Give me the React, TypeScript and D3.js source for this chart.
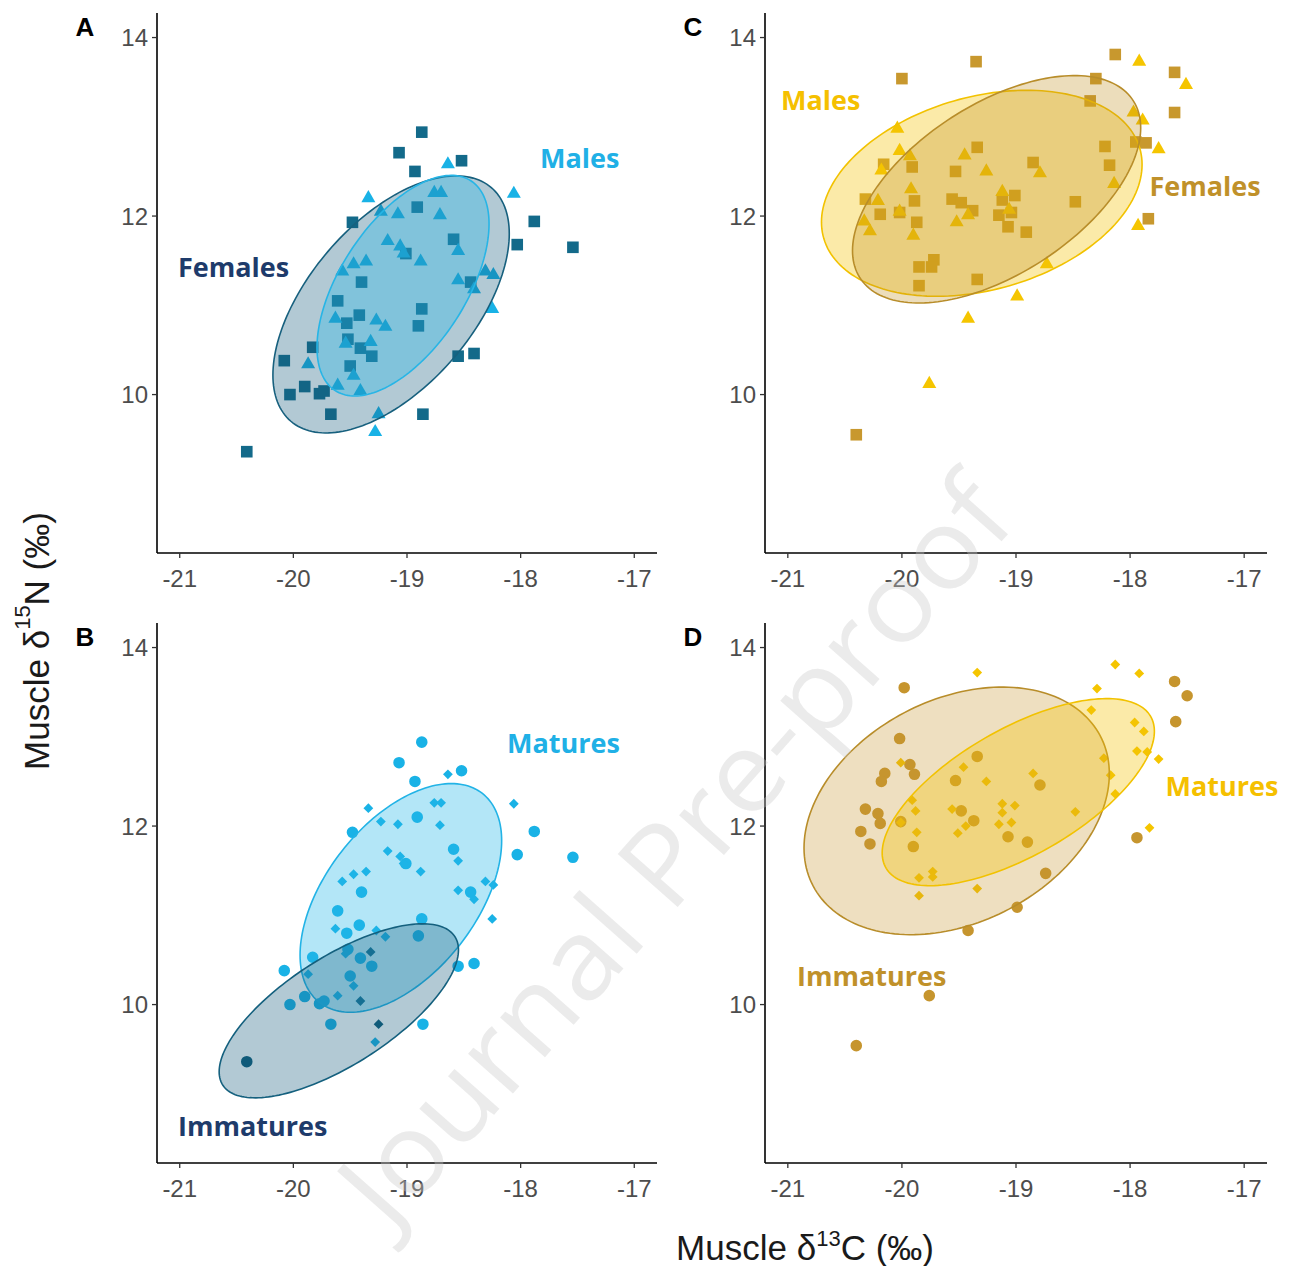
import React from "react";
import * as d3 from "d3";

type Pt = [number, number];
type Ell = [number, number, number, number, number]; // cx, cy, sx, sy, r

const xTicks = [-21, -20, -19, -18, -17];
const yTicks = [10, 12, 14];

// Panel A: sex, blue
const aFemales: Pt[] = [
  [-18.87, 12.94], [-19.07, 12.71], [-18.52, 12.62], [-18.93, 12.5], [-18.91, 12.1],
  [-19.48, 11.93], [-17.88, 11.94], [-18.03, 11.68], [-17.54, 11.65], [-18.59, 11.74],
  [-19.01, 11.58], [-19.4, 11.26], [-18.44, 11.26], [-19.61, 11.05], [-18.87, 10.96],
  [-19.42, 10.89], [-19.53, 10.8], [-18.9, 10.77], [-19.52, 10.62], [-19.41, 10.52],
  [-19.31, 10.43], [-19.83, 10.53], [-20.08, 10.38], [-18.55, 10.43], [-18.41, 10.46],
  [-19.5, 10.32], [-19.9, 10.09], [-20.03, 10.0], [-19.77, 10.01], [-19.73, 10.04],
  [-19.67, 9.78], [-18.86, 9.78], [-20.41, 9.36],
];
const aMales: Pt[] = [
  [-18.64, 12.58], [-19.34, 12.2], [-18.76, 12.26], [-18.7, 12.26], [-18.06, 12.25],
  [-19.23, 12.05], [-19.08, 12.02], [-18.71, 12.01], [-19.17, 11.72], [-19.06, 11.66],
  [-19.03, 11.58], [-18.88, 11.49], [-18.55, 11.61], [-19.36, 11.49], [-19.47, 11.46],
  [-19.57, 11.38], [-18.55, 11.28], [-18.31, 11.38], [-18.24, 11.34], [-18.41, 11.18],
  [-18.25, 10.96], [-19.63, 10.85], [-19.27, 10.83], [-19.19, 10.76], [-19.32, 10.59],
  [-19.54, 10.57], [-19.87, 10.34], [-19.47, 10.21], [-19.61, 10.1], [-19.41, 10.04],
  [-19.25, 9.78], [-19.28, 9.58],
];

// Panel B: maturity, blue
const bImmCircles: Pt[] = [[-20.41, 9.36]];
const bImmDiamonds: Pt[] = [[-19.32, 10.59], [-19.41, 10.04], [-19.25, 9.78]];

// Panel C: sex, gold
const cFemales: Pt[] = [
  [-19.35, 13.73], [-20.0, 13.54], [-18.13, 13.81], [-17.61, 13.61], [-18.3, 13.54],
  [-18.35, 13.29], [-17.61, 13.16], [-17.95, 12.83], [-17.86, 12.82], [-18.22, 12.78],
  [-18.18, 12.57], [-18.85, 12.6], [-19.34, 12.77], [-20.16, 12.58], [-19.91, 12.55],
  [-19.53, 12.5], [-20.32, 12.19], [-19.89, 12.17], [-19.56, 12.19], [-19.48, 12.15],
  [-19.38, 12.06], [-19.01, 12.23], [-19.12, 12.18], [-18.48, 12.16], [-20.19, 12.02],
  [-20.02, 12.04], [-19.87, 11.93], [-19.15, 12.01], [-19.04, 12.04], [-19.07, 11.88],
  [-18.91, 11.82], [-17.84, 11.97], [-19.85, 11.43], [-19.72, 11.51], [-19.74, 11.43],
  [-19.85, 11.22], [-19.34, 11.29], [-20.4, 9.55],
];
const cMales: Pt[] = [
  [-17.92, 13.73], [-17.51, 13.47], [-17.97, 13.16], [-17.89, 13.07], [-17.75, 12.75],
  [-18.14, 12.36], [-20.04, 12.98], [-20.02, 12.73], [-19.93, 12.67], [-20.18, 12.51],
  [-19.45, 12.68], [-19.26, 12.5], [-18.79, 12.48], [-19.92, 12.3], [-20.21, 12.17],
  [-19.12, 12.27], [-20.33, 11.94], [-20.28, 11.83], [-20.02, 12.05], [-19.9, 11.78],
  [-19.52, 11.93], [-19.42, 12.01], [-19.06, 12.07], [-17.93, 11.89], [-18.73, 11.46],
  [-18.99, 11.1], [-19.42, 10.85], [-19.76, 10.12],
];

// Panel D: maturity, gold
const dImmatures: Pt[] = [
  [-19.98, 13.55], [-17.61, 13.62], [-17.5, 13.46], [-17.6, 13.17], [-20.02, 12.98],
  [-19.93, 12.69], [-19.89, 12.58], [-20.15, 12.59], [-20.18, 12.5], [-19.34, 12.78],
  [-19.53, 12.51], [-18.79, 12.46], [-20.32, 12.19], [-20.21, 12.14], [-20.19, 12.03],
  [-20.01, 12.05], [-19.48, 12.17], [-19.37, 12.06], [-20.36, 11.94], [-20.28, 11.8],
  [-19.9, 11.77], [-19.07, 11.88], [-18.9, 11.82], [-17.94, 11.87], [-18.74, 11.47],
  [-18.99, 11.09], [-19.42, 10.83], [-19.76, 10.1], [-20.4, 9.54],
];
const dMatures: Pt[] = [
  [-19.34, 13.72], [-18.13, 13.81], [-17.92, 13.71], [-18.29, 13.54], [-18.34, 13.3],
  [-17.96, 13.16], [-17.88, 13.06], [-17.94, 12.84], [-17.85, 12.83], [-17.75, 12.75],
  [-18.23, 12.76], [-18.17, 12.57], [-18.13, 12.36], [-20.01, 12.71], [-19.46, 12.66],
  [-19.26, 12.5], [-18.85, 12.59], [-19.91, 12.29], [-19.88, 12.17], [-19.56, 12.19],
  [-19.12, 12.25], [-19.01, 12.23], [-19.12, 12.15], [-19.04, 12.04], [-19.15, 12.02],
  [-18.48, 12.16], [-20.01, 12.04], [-19.87, 11.93], [-19.51, 11.92], [-19.44, 12.0],
  [-17.83, 11.98], [-19.85, 11.42], [-19.73, 11.49], [-19.73, 11.43], [-19.85, 11.22],
  [-19.34, 11.3],
];

// 95% ellipses: centre, half-width, half-height, correlation
const ellAFemales: Ell = [-19.14, 11.01, 1.04, 1.44, 0.55];
const ellAMales: Ell = [-19.035, 11.22, 0.757, 1.236, 0.56];
const ellBMatures: Ell = [-19.054, 11.195, 0.887, 1.281, 0.5];
const ellBImmatures: Ell = [-19.6, 9.93, 1.053, 0.975, 0.7];
const ellCFemales: Ell = [-19.17, 12.3, 1.263, 1.274, 0.54];
const ellCMales: Ell = [-19.3, 12.255, 1.405, 1.154, 0.28];
const ellDImmatures: Ell = [-19.52, 12.17, 1.338, 1.387, 0.3];
const ellDMatures: Ell = [-18.98, 12.38, 1.193, 1.048, 0.65];

const notIn = (list: Pt[]) => (p: Pt) => !list.some((q) => q[0] === p[0] && q[1] === p[1]);

const BLUE_DARK = "#136a8a";
const BLUE_LIGHT = "#19b2e6";
const GOLD_DARK = "#c8982e";
const GOLD_LIGHT = "#f5c500";

type Group = { pts: Pt[]; shape: string; color: string };
type EllDef = { e: Ell; fill: string; stroke: string; opacity: number };
type Lab = { text: string; x: number; y: number; color: string };

const panels = [
  {
    id: "A", left: 157, right: 657, top: 13, bottom: 553,
    groups: [
      { pts: aFemales, shape: "square", color: BLUE_DARK },
      { pts: aMales, shape: "triangle", color: BLUE_LIGHT },
    ] as Group[],
    ells: [
      { e: ellAFemales, fill: "#155c7c", stroke: "#17607e", opacity: 0.33 },
      { e: ellAMales, fill: "#26b8e8", stroke: "#27b5e6", opacity: 0.35 },
    ] as EllDef[],
    labels: [
      { text: "Females", x: -21.015, y: 11.44, color: "#1e3b6b" },
      { text: "Males", x: -17.83, y: 12.66, color: "#20b0e6" },
    ] as Lab[],
  },
  {
    id: "C", left: 765, right: 1267, top: 13, bottom: 553,
    groups: [
      { pts: cFemales, shape: "square", color: GOLD_DARK },
      { pts: cMales, shape: "triangle", color: GOLD_LIGHT },
    ] as Group[],
    ells: [
      { e: ellCMales, fill: "#f4c306", stroke: "#f2c200", opacity: 0.35 },
      { e: ellCFemales, fill: "#bf8d1e", stroke: "#b88d2a", opacity: 0.3 },
    ] as EllDef[],
    labels: [
      { text: "Males", x: -21.06, y: 13.31, color: "#f5c000" },
      { text: "Females", x: -17.83, y: 12.34, color: "#c0912a" },
    ] as Lab[],
  },
  {
    id: "B", left: 157, right: 657, top: 623, bottom: 1163,
    groups: [
      { pts: aFemales.filter(notIn(bImmCircles)), shape: "circle", color: BLUE_LIGHT },
      { pts: aMales.filter(notIn(bImmDiamonds)), shape: "diamond", color: BLUE_LIGHT },
      { pts: bImmCircles, shape: "circle", color: "#0d5a78" },
      { pts: bImmDiamonds, shape: "diamond", color: "#0d5a78" },
    ] as Group[],
    ells: [
      { e: ellBMatures, fill: "#26b8e8", stroke: "#22b3e6", opacity: 0.35 },
      { e: ellBImmatures, fill: "#155c7c", stroke: "#14607e", opacity: 0.33 },
    ] as EllDef[],
    labels: [
      { text: "Immatures", x: -21.015, y: 8.65, color: "#1e3b6b" },
      { text: "Matures", x: -18.12, y: 12.94, color: "#20b0e6" },
    ] as Lab[],
  },
  {
    id: "D", left: 765, right: 1267, top: 623, bottom: 1163,
    groups: [
      { pts: dImmatures, shape: "circle", color: "#c6952e" },
      { pts: dMatures, shape: "diamond", color: GOLD_LIGHT },
    ] as Group[],
    ells: [
      { e: ellDImmatures, fill: "#c6942d", stroke: "#b88d2a", opacity: 0.3 },
      { e: ellDMatures, fill: "#f4c306", stroke: "#f2c200", opacity: 0.35 },
    ] as EllDef[],
    labels: [
      { text: "Immatures", x: -20.92, y: 10.33, color: "#c0912a" },
      { text: "Matures", x: -17.69, y: 12.45, color: "#f5c000" },
    ] as Lab[],
  },
];

const symbolPath = (shape: string) => {
  if (shape === "square") return d3.symbol().type(d3.symbolSquare).size(135)() as string;
  if (shape === "triangle") return d3.symbol().type(d3.symbolTriangle).size(85)() as string;
  if (shape === "circle") return d3.symbol().type(d3.symbolCircle).size(105)() as string;
  return d3.symbol().type(d3.symbolSquare).size(48)() as string;
};

const ellipsePoints = (e: Ell): Pt[] => {
  const [cx, cy, sx, sy, r] = e;
  const q = Math.sqrt(1 - r * r);
  return d3.range(0, 2 * Math.PI, Math.PI / 90).map((t) => [
    cx + sx * Math.cos(t),
    cy + sy * (r * Math.cos(t) + q * Math.sin(t)),
  ]);
};

const TICK_FONT = "'Liberation Sans', Arial, sans-serif";
const LABEL_FONT = "'Open Sans', sans-serif";

function Panel({ p }: { p: (typeof panels)[number] }) {
  const x = d3.scaleLinear().domain([-21.2, -16.8]).range([p.left, p.right]);
  const y = d3.scaleLinear().domain([8.225, 14.275]).range([p.bottom, p.top]);
  const line = d3
    .line<Pt>()
    .x((d) => x(d[0]))
    .y((d) => y(d[1]))
    .curve(d3.curveLinearClosed);

  return (
    <g>
      {p.groups.map((g, gi) => {
        const path = symbolPath(g.shape);
        const rot = g.shape === "diamond" ? " rotate(45)" : "";
        return (
          <g key={gi} fill={g.color}>
            {g.pts.map((d, i) => (
              <path key={i} d={path} transform={`translate(${x(d[0])},${y(d[1])})${rot}`} />
            ))}
          </g>
        );
      })}
      {p.ells.map((el, i) => (
        <path
          key={i}
          d={line(ellipsePoints(el.e)) as string}
          fill={el.fill}
          fillOpacity={el.opacity}
          stroke={el.stroke}
          strokeWidth={1.6}
        />
      ))}
      {p.labels.map((l, i) => (
        <text
          key={i}
          x={x(l.x)}
          y={y(l.y)}
          fill={l.color}
          fontFamily={LABEL_FONT}
          fontWeight={700}
          fontSize={27}
          dominantBaseline="central"
        >
          {l.text}
        </text>
      ))}
      {/* axes */}
      <line x1={p.left} x2={p.left} y1={p.top} y2={p.bottom} stroke="#000" strokeWidth={1.6} />
      <line x1={p.left} x2={p.right} y1={p.bottom} y2={p.bottom} stroke="#000" strokeWidth={1.6} />
      {yTicks.map((t) => (
        <g key={t}>
          <line x1={p.left - 5} x2={p.left} y1={y(t)} y2={y(t)} stroke="#333" strokeWidth={1.3} />
          <text
            x={p.left - 9}
            y={y(t)}
            textAnchor="end"
            dominantBaseline="central"
            fontFamily={TICK_FONT}
            fontSize={24}
            fill="#4d4d4d"
          >
            {t}
          </text>
        </g>
      ))}
      {xTicks.map((t) => (
        <g key={t}>
          <line x1={x(t)} x2={x(t)} y1={p.bottom} y2={p.bottom + 5} stroke="#333" strokeWidth={1.3} />
          <text
            x={x(t)}
            y={p.bottom + 34}
            textAnchor="middle"
            fontFamily={TICK_FONT}
            fontSize={24}
            fill="#4d4d4d"
          >
            {"-" + Math.abs(t)}
          </text>
        </g>
      ))}
      <text
        x={p.left - 72}
        y={p.top + 14}
        textAnchor="middle"
        dominantBaseline="central"
        fontFamily={TICK_FONT}
        fontWeight={700}
        fontSize={26}
        fill="#000"
      >
        {p.id}
      </text>
    </g>
  );
}

export default function App() {
  return (
    <svg width={1290} height={1274} style={{ display: "block", margin: "-8px", background: "#fff" }}>
      <rect width={1290} height={1274} fill="#fff" />
      {panels.map((p) => (
        <Panel key={p.id} p={p} />
      ))}
      <text
        transform="translate(36,641) rotate(-90)"
        textAnchor="middle"
        dominantBaseline="central"
        fontFamily={TICK_FONT}
        fontSize={35}
        fill="#1a1a1a"
      >
        Muscle δ<tspan fontSize={22} dy={-14}>15</tspan>
        <tspan dy={14}>N (‰)</tspan>
      </text>
      <text
        x={805}
        y={1260}
        textAnchor="middle"
        fontFamily={TICK_FONT}
        fontSize={35}
        fill="#1a1a1a"
      >
        Muscle δ<tspan fontSize={22} dy={-14}>13</tspan>
        <tspan dy={14}>C (‰)</tspan>
      </text>
      <text
        transform="translate(672,848) rotate(-48.5)"
        textAnchor="middle"
        dominantBaseline="central"
        fontFamily={LABEL_FONT}
        fontSize={112}
        fill="#c8c8c8"
        fillOpacity={0.36}
        textLength={950}
        lengthAdjust="spacingAndGlyphs"
      >
        Journal Pre-proof
      </text>
    </svg>
  );
}
